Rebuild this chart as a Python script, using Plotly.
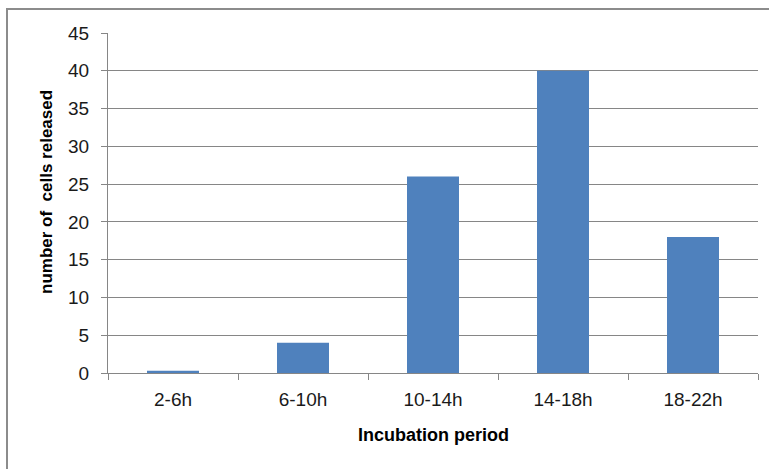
import plotly.graph_objects as go

categories = ["2-6h", "6-10h", "10-14h", "14-18h", "18-22h"]
cells_released = [0.3, 4, 26, 40, 18]
y_ticks = [0, 5, 10, 15, 20, 25, 30, 35, 40, 45]

W, H = 769, 469
L, R, T, B = 108, 11, 33, 96
pw = W - L - R
ph = H - T - B

def px_x(x):
    return (x - L) / pw

def px_y(y):
    return (H - B - y) / ph

FONT = "Liberation Sans, Arial, sans-serif"
GREY = "#868686"

fig = go.Figure(go.Bar(
    x=categories, y=cells_released,
    marker=dict(color="#4F81BD", line=dict(width=0)),
))

fig.update_layout(
    width=W, height=H,
    margin=dict(l=L, r=R, t=T, b=B, autoexpand=False),
    paper_bgcolor="white", plot_bgcolor="white",
    bargap=0.6,
    showlegend=False,
    font=dict(family=FONT, size=19, color="#1a1a1a"),
    xaxis=dict(
        type="category",
        tickson="boundaries",
        ticks="outside", ticklen=6, tickcolor=GREY,
        showline=True, linecolor=GREY, linewidth=1,
        showgrid=False,
        tickfont=dict(size=19),
        ticklabelstandoff=9,
    ),
    yaxis=dict(
        range=[0, 45],
        tickvals=y_ticks,
        ticks="outside", ticklen=6, tickcolor=GREY,
        showline=True, linecolor=GREY, linewidth=1,
        showgrid=True, gridcolor=GREY, gridwidth=1,
        zeroline=False,
        tickfont=dict(size=19),
        ticklabelstandoff=8,
    ),
    annotations=[
        dict(text="<b>number of\u00a0 cells released</b>", xref="paper", yref="paper",
             x=px_x(46), y=px_y(192), textangle=-90, showarrow=False,
             xanchor="center", yanchor="middle", font=dict(size=17, family=FONT, color="#000")),
        dict(text="<b>Incubation period</b>", xref="paper", yref="paper",
             x=px_x(433), y=px_y(435), showarrow=False,
             xanchor="center", yanchor="middle", font=dict(size=18, family=FONT, color="#000")),
    ],
    shapes=[
        dict(type="rect", xref="paper", yref="paper",
             x0=px_x(7), x1=px_x(790), y0=px_y(490), y1=px_y(9),
             line=dict(color="#8c8c8c", width=2), fillcolor="rgba(0,0,0,0)", layer="below"),
    ],
)

fig.write_html("out.html", config={"displayModeBar": False},
               post_script="document.body.style.margin='0';document.body.style.padding='0';")
